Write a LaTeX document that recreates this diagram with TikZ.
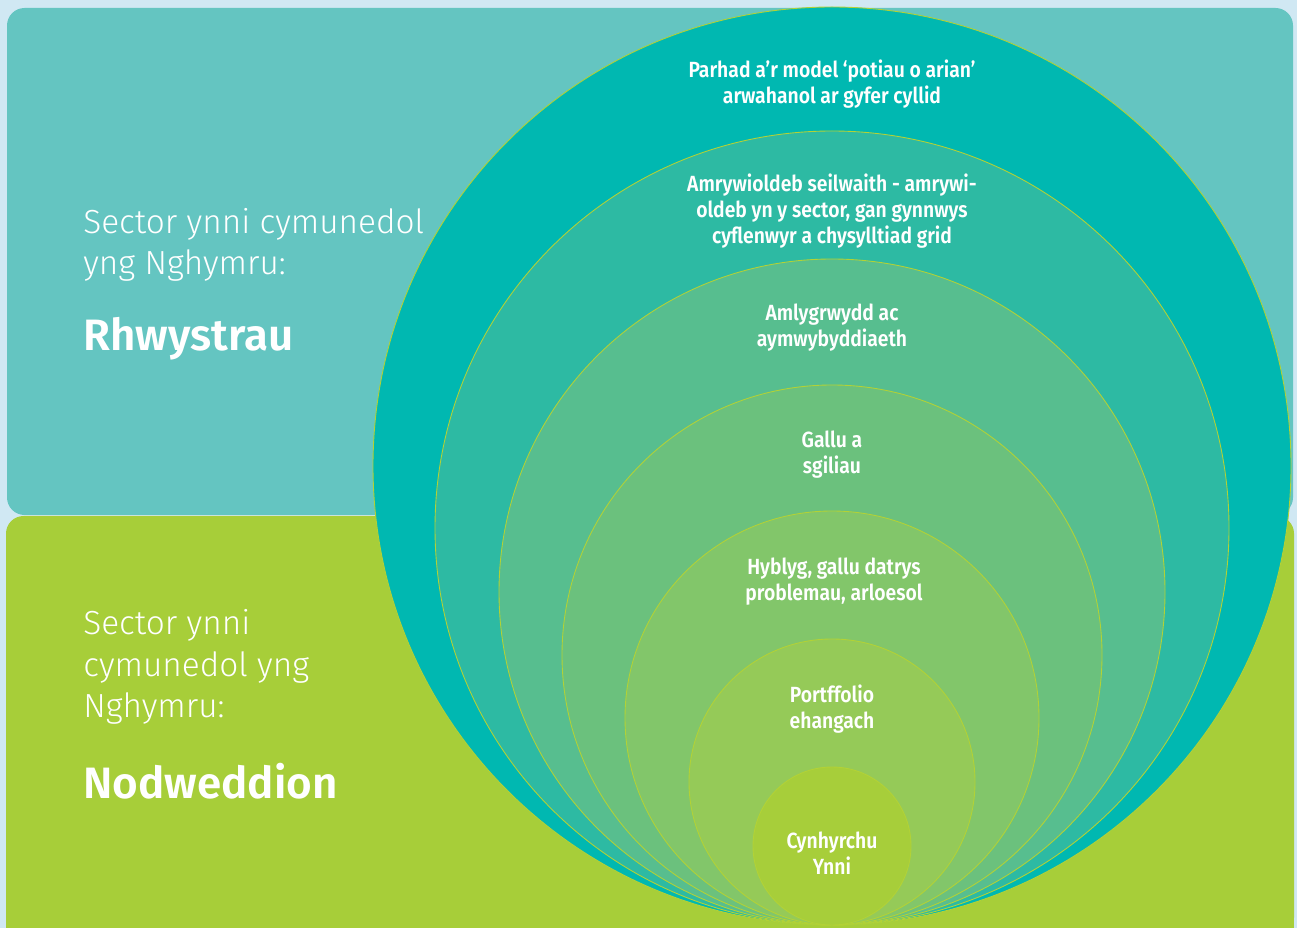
\documentclass[tikz,border=0pt]{standalone}
\usepackage{fontspec}
\setmainfont{Fira Sans}
\newfontfamily\headfont{Fira Sans Light}
\newfontfamily\lblfont{Fira Sans SemiBold}[FakeStretch=0.88]
\newfontfamily\titlefont{Fira Sans SemiBold}
\usepackage{tikz}

\definecolor{bgblue}{HTML}{D0E8F3}
\definecolor{panelteal}{HTML}{64C5C1}
\definecolor{panellime}{HTML}{A7CE39}
\definecolor{ringA}{HTML}{00B8B1}
\definecolor{ringB}{HTML}{2DBAA3}
\definecolor{ringC}{HTML}{57BE8F}
\definecolor{ringD}{HTML}{6BC17D}
\definecolor{ringE}{HTML}{82C66A}
\definecolor{ringF}{HTML}{95CA58}
\definecolor{ringG}{HTML}{A7CE3A}
\definecolor{ringline}{HTML}{B2D236}

\begin{document}
\begin{tikzpicture}[x=0.02cm,y=-0.02cm,
		ring/.style={circle,draw=ringline,line width=0.5pt,inner sep=0pt,outer sep=0pt},
		lbl/.style={text=white,align=center,font=\lblfont\fontsize{12.5}{14.7}\selectfont},
		head/.style={text=white,align=left,anchor=west,inner sep=0pt,font=\headfont\fontsize{19}{23.5}\selectfont},
		title/.style={text=white,anchor=west,inner sep=0pt,font=\titlefont\fontsize{25}{28}\selectfont}]

			\useasboundingbox (0,0) rectangle (1297,928);
			\fill[bgblue] (0,0) rectangle (1297,928);

			% panels
			\fill[panelteal,rounded corners=10] (7,8) rectangle (1293,515);
			\fill[panellime,rounded corners=10] (6,516) rectangle (1294,935);
			\fill[panellime] (6,900) rectangle (1294,928);

			% rings, outer first
			\foreach \name/\r/\col in {potiau/459/ringA,seilwaith/397/ringB,amlygrwydd/333/ringC,
				gallu/270/ringD,hyblyg/207/ringE,portffolio/143/ringF,cynhyrchu/79/ringG}
				\node[ring,fill=\col,minimum size={2*\r*0.02cm}] (\name) at (832,{925-\r}) {};

			\node[lbl] (potiau-txt) at (832,84) {Parhad a’r model ‘potiau o arian’\\arwahanol ar gyfer cyllid};
			\node[lbl] (seilwaith-txt) at (832,211) {Amrywioldeb seilwaith - amrywi-\\oldeb yn y sector, gan gynnwys\\cyflenwyr a chysylltiad grid};
			\node[lbl] (amlygrwydd-txt) at (832,328) {Amlygrwydd ac\\aymwybyddiaeth};
			\node[lbl] (gallu-txt) at (832,455) {Gallu a\\sgiliau};
			\node[lbl] (hyblyg-txt) at (834,582) {Hyblyg, gallu datrys\\problemau, arloesol};
			\node[lbl] (portffolio-txt) at (832,709) {Portffolio\\ehangach};
			\node[lbl] (cynhyrchu-txt) at (832,853) {Cynhyrchu\\Ynni};

			% left side
			\node[head] (rhwystrau-head) at (83,245) {Sector ynni cymunedol\\yng Nghymru:};
			\node[title] (rhwystrau) at (83,339) {Rhwystrau};
			\node[head] (nodweddion-head) at (83,667) {Sector ynni\\cymunedol yng\\Nghymru:};
			\node[title] (nodweddion) at (83,781) {Nodweddion};

		\end{tikzpicture}
\end{document}
